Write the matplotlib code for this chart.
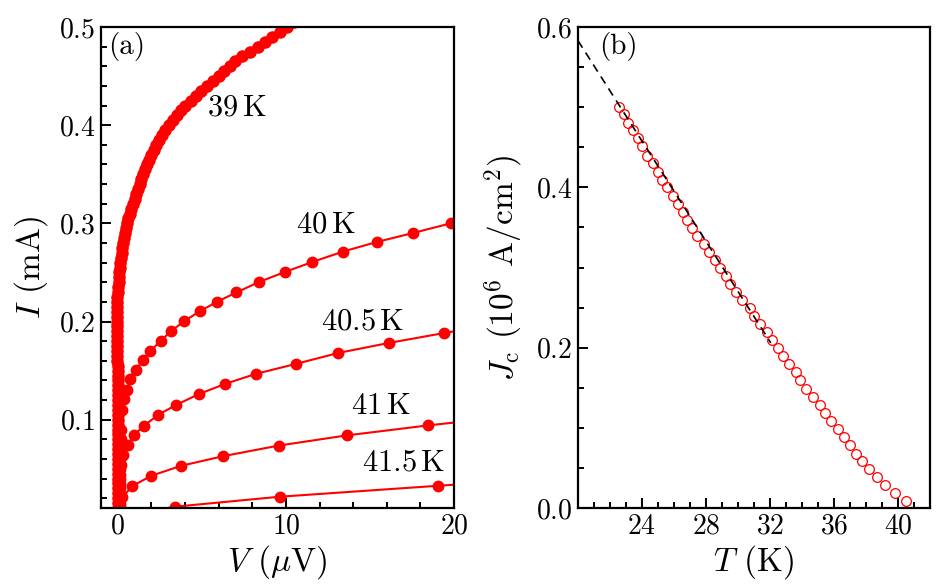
import numpy as np
import matplotlib
matplotlib.use('Agg')
import matplotlib.pyplot as plt
from matplotlib.ticker import MultipleLocator

plt.rcParams['font.family'] = ['cmr10', 'DejaVu Serif']
plt.rcParams['mathtext.fontset'] = 'cm'
plt.rcParams['axes.formatter.use_mathtext'] = True
plt.rcParams['axes.unicode_minus'] = False

# (a) I-V curves, V in uV, I in mA
# 39 K: near-vertical part close to V = 0, then the bend
v_39 = [0.02, 0.02, 0.02, 0.02, 0.02, 0.02, 0.02, 0.02, 0.02, 0.02,
        0.02, 0.02, 0.02, 0.02, 0.02, 0.02, 0.02, 0.02, 0.02, 0.02,
        0.01, 0.01, 0.01, 0.0, 0.0, 0.0, 0.0, 0.0, -0.01, -0.01,
        -0.01, -0.02, -0.02, -0.02, -0.03, -0.03, -0.03, -0.03, -0.03, -0.03,
        -0.03, -0.01, 0.02, 0.05, 0.07, 0.09, 0.12, 0.14, 0.17, 0.22,
        0.27, 0.32, 0.37, 0.43, 0.49, 0.55, 0.63, 0.72, 0.81, 0.90,
        1.00, 1.10, 1.19, 1.29, 1.39, 1.49, 1.60, 1.72, 1.84, 1.98,
        2.13, 2.28, 2.42, 2.61, 2.81, 3.04, 3.28, 3.52, 3.77, 4.02,
        4.34, 4.66, 4.95, 5.30, 5.66, 6.02, 6.33, 6.70, 6.98, 7.37,
        7.86, 8.31, 8.73, 9.18, 9.64, 10.05, 10.5]
i_39 = [0.005, 0.010, 0.015, 0.020, 0.025, 0.030, 0.035, 0.040, 0.045, 0.050,
        0.055, 0.060, 0.065, 0.070, 0.075, 0.080, 0.085, 0.090, 0.095, 0.100,
        0.105, 0.110, 0.115, 0.120, 0.125, 0.130, 0.135, 0.140, 0.145, 0.150,
        0.155, 0.160, 0.165, 0.170, 0.175, 0.180, 0.185, 0.190, 0.195, 0.200,
        0.225, 0.230, 0.235, 0.240, 0.245, 0.250, 0.255, 0.260, 0.265, 0.270,
        0.275, 0.280, 0.285, 0.290, 0.295, 0.300, 0.305, 0.310, 0.315, 0.320,
        0.325, 0.330, 0.335, 0.340, 0.345, 0.350, 0.355, 0.360, 0.365, 0.370,
        0.375, 0.380, 0.385, 0.390, 0.395, 0.400, 0.405, 0.410, 0.415, 0.420,
        0.425, 0.430, 0.435, 0.440, 0.445, 0.450, 0.455, 0.460, 0.465, 0.470,
        0.475, 0.480, 0.485, 0.490, 0.495, 0.500, 0.505]
v_39b = [-0.03, -0.03, -0.03, -0.03]
i_39b = [0.205, 0.210, 0.215, 0.220]

v_40 = [0.1, 0.1, 0.1, 0.1, 0.12, 0.15, 0.18, 0.2, 0.26, 0.36, 0.56, 0.75,
        1.11, 1.47, 1.94, 2.54, 3.15, 3.96, 4.87, 5.90, 7.05, 8.42, 9.96,
        11.58, 13.40, 15.40, 17.54, 19.80, 22.2]
i_40 = [0.02, 0.03, 0.04, 0.05, 0.06, 0.07, 0.08, 0.09, 0.1094, 0.1206,
        0.130, 0.1413, 0.151, 0.161, 0.170, 0.180, 0.190, 0.2005, 0.2104,
        0.2201, 0.2296, 0.2404, 0.2506, 0.2607, 0.2713, 0.281, 0.2901,
        0.300, 0.309]

v_405 = [0.1, 0.1, 0.12, 0.15, 0.2, 0.32, 0.59, 0.95, 1.54, 2.40, 3.49,
         4.81, 6.40, 8.22, 10.61, 13.12, 16.13, 19.42, 22.8]
i_405 = [0.014, 0.024, 0.034, 0.044, 0.054, 0.0638, 0.0739, 0.084, 0.0936,
         0.105, 0.1152, 0.126, 0.1366, 0.1467, 0.1569, 0.168, 0.1782,
         0.1883, 0.198]

v_41 = [0.1, 0.26, 0.86, 1.98, 3.76, 6.26, 9.56, 13.62, 18.47, 23.7]
i_41 = [0.011, 0.0208, 0.0323, 0.0428, 0.053, 0.0628, 0.0736, 0.0840,
        0.0942, 0.104]

v_415 = [0.3, 3.43, 9.62, 19.06, 28.5]
i_415 = [0.002, 0.0114, 0.0215, 0.0327, 0.043]

curve_labels = ['39$\\,$K', '40$\\,$K', '40.5$\\,$K', '41$\\,$K', '41.5$\\,$K']
label_v = [5.3, 10.6, 12.1, 13.9, 14.5]
label_i = [0.418, 0.299, 0.1995, 0.114, 0.0563]

# (b) critical current density vs temperature
t_jc = [22.55, 22.86, 23.14, 23.45, 23.76, 24.03, 24.30, 24.66, 24.97,
        25.28, 25.58, 25.96, 26.25, 26.58, 26.83, 27.14, 27.45, 27.86,
        28.17, 28.58, 28.90, 29.27, 29.53, 29.89, 30.25, 30.72, 31.03,
        31.38, 31.80, 32.11, 32.48, 32.83, 33.21, 33.62, 33.87, 34.28,
        34.66, 35.11, 35.42, 35.79, 36.25, 36.62, 36.98, 37.35, 37.76,
        38.17, 38.69, 39.21, 39.83, 40.50]
jc = [0.500, 0.491, 0.480, 0.471, 0.461, 0.452, 0.439, 0.430, 0.419, 0.409,
      0.400, 0.389, 0.379, 0.369, 0.359, 0.349, 0.339, 0.329, 0.320, 0.309,
      0.299, 0.289, 0.279, 0.270, 0.260, 0.249, 0.240, 0.230, 0.220, 0.210,
      0.200, 0.190, 0.180, 0.170, 0.160, 0.149, 0.139, 0.128, 0.119, 0.109,
      0.099, 0.088, 0.079, 0.068, 0.059, 0.049, 0.039, 0.029, 0.019, 0.009]
fit_t = [20.0, 32.05]
fit_jc = [0.583, 0.206]

red = '#ff0000'

fig = plt.figure(figsize=(9.38, 5.88), dpi=100)
ax1 = fig.add_axes([0.1077, 0.136, 0.3763, 0.818])
ax2 = fig.add_axes([0.6162, 0.136, 0.3753, 0.818])

for ax in (ax1, ax2):
    for s in ax.spines.values():
        s.set_linewidth(1.6)
    ax.tick_params(which='both', direction='in', top=False, right=False,
                   labelsize=20, width=1.4, pad=4)
    ax.tick_params(which='major', length=7)
    ax.tick_params(which='minor', length=4.5)

mk = dict(color=red, marker='o', markersize=7.5, lw=1.5)
ax1.plot(v_39, i_39, color=red, marker='o', markersize=8, lw=1.5)
ax1.plot(v_39b, i_39b, ls='none', marker='o', color=red, markersize=8)
ax1.plot(v_40, i_40, **mk)
ax1.plot(v_405, i_405, **mk)
ax1.plot(v_41, i_41, **mk)
ax1.plot(v_415, i_415, **mk)
for txt, x, y in zip(curve_labels, label_v, label_i):
    ax1.text(x, y, txt, fontsize=22, va='center', ha='left')
ax1.text(0.02, 0.99, '(a)', transform=ax1.transAxes, fontsize=21,
         va='top', ha='left')

ax1.set_xlim(-1, 20)
ax1.set_ylim(0.01, 0.5)
ax1.xaxis.set_major_locator(MultipleLocator(10))
ax1.xaxis.set_minor_locator(MultipleLocator(2))
ax1.set_yticks([0.1, 0.2, 0.3, 0.4, 0.5])
ax1.yaxis.set_minor_locator(MultipleLocator(0.02))
ax1.yaxis.set_major_formatter(plt.FuncFormatter(lambda v, p: '$%.1f$' % v))
ax1.set_xlabel('$V$ ($\\mu$V)', fontsize=24, labelpad=2)
ax1.set_ylabel('$I$ (mA)', fontsize=24, labelpad=6)

ax2.plot(fit_t, fit_jc, color='black', lw=1.2, ls=(0, (5, 3.5)), zorder=3)
ax2.plot(t_jc, jc, ls='none', marker='o', markersize=7, mfc='none',
         mec=red, mew=0.9, zorder=2)
ax2.text(0.06, 0.99, '(b)', transform=ax2.transAxes, fontsize=21,
         va='top', ha='left')
ax2.set_xlim(20, 42)
ax2.set_ylim(0, 0.6)
ax2.set_xticks([24, 28, 32, 36, 40])
ax2.xaxis.set_minor_locator(MultipleLocator(1))
ax2.set_yticks([0.0, 0.2, 0.4, 0.6])
ax2.yaxis.set_minor_locator(MultipleLocator(0.05))
ax2.yaxis.set_major_formatter(plt.FuncFormatter(lambda v, p: '$%.1f$' % v))
ax2.set_xlabel('$T$ (K)', fontsize=24, labelpad=2)
ax2.set_ylabel('$J_{\\rm c}$ ($10^6$ A/cm$^2$)', fontsize=24, labelpad=8)

fig.savefig('out.png', dpi=100)
